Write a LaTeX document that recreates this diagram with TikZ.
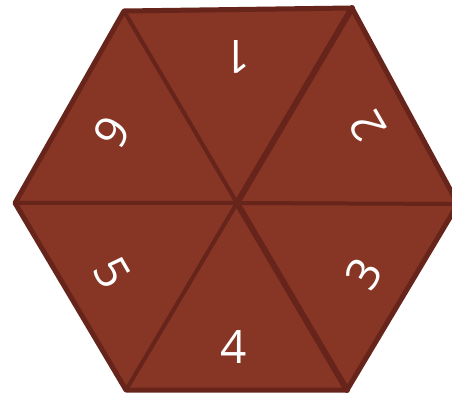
\documentclass[tikz,border=0pt]{standalone}
\usepackage{fontspec}
\setmainfont{Open Sans}
\definecolor{facefill}{HTML}{873524}
\definecolor{edgecol}{HTML}{66241A}
\begin{document}
\begin{tikzpicture}[x=1pt,y=-1pt,
  outer edge/.style={draw=edgecol,line width=5pt,line join=miter},
  edge/.style={draw=edgecol,line width=4pt,line cap=round},
  thick edge/.style={draw=edgecol,line width=6pt,line cap=round},
  lbl/.style={text=white,font=\fontsize{46}{46}\selectfont,inner sep=0pt}]
\useasboundingbox (0,0) rectangle (452,395);
\begin{scope}
\clip (0,0) rectangle (452,395);
\coordinate (C) at (237,203);
\coordinate (TL) at (124,11);
\coordinate (TR) at (352,8);
\coordinate (R) at (458,204);
\coordinate (BR) at (347,390);
\coordinate (BL) at (126,390);
\coordinate (L) at (15,203);
\fill[facefill] (TL) -- (TR) -- (R) -- (BR) -- (BL) -- (L) -- cycle;
\draw[outer edge,line join=round] (TL) -- (TR) -- (R) -- (BR) -- (BL) -- (L) -- cycle;
\draw[edge] (TL) -- (C) -- (BL);
\draw[edge] (L) -- (C) -- (R);
\draw[thick edge] (TR) -- (C) -- (BR);
\end{scope}
\node[lbl,rotate=180] (n1) at (237,57) {1};
\node[lbl,rotate=120] (n2) at (367,126) {2};
\node[lbl,rotate=60] (n3) at (364,274) {3};
\node[lbl] (n4) at (234,347) {4};
\node[lbl,rotate=-60] (n5) at (112,273) {5};
\node[lbl,rotate=-120] (n6) at (112,132) {6};
\end{tikzpicture}
\end{document}
